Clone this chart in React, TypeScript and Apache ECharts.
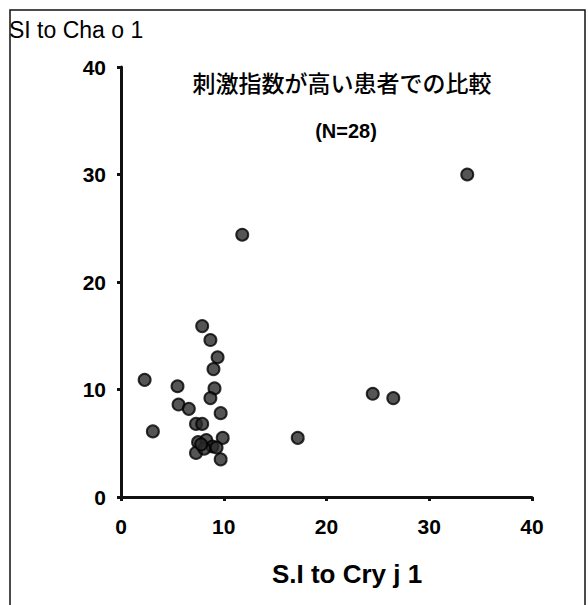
import React, { useEffect, useRef } from "react";
import * as echarts from "echarts";

const xTicks = [0, 10, 20, 30, 40];
const yTicks = [0, 10, 20, 30, 40];
const xValues = [7.9, 8.7, 9.4, 9.0, 2.3, 5.5, 9.1, 8.7, 5.6, 6.6, 9.7, 3.1, 7.3, 7.9, 9.9, 9.7, 7.5, 8.3, 8.9, 7.3, 8.1, 7.8, 9.3, 11.8, 24.5, 26.5, 17.2, 33.7];
const yValues = [15.9, 14.6, 13.0, 11.9, 10.9, 10.3, 10.1, 9.2, 8.6, 8.2, 7.8, 6.1, 6.8, 6.8, 5.5, 3.5, 5.1, 5.3, 4.7, 4.1, 4.5, 4.9, 4.6, 24.4, 9.6, 9.2, 5.5, 30.0];
const titleText = "刺激指数が高い患者での比較";
const subtitleText = "(N=28)";
const yName = "SI to Cha o 1";
const xName = "S.I to Cry j 1";

const FONT = "'Liberation Sans', Arial, 'Noto Sans CJK JP', sans-serif";

export default function App() {
  const ref = useRef<HTMLDivElement>(null);
  useEffect(() => {
    if (!ref.current) return;
    const chart = echarts.init(ref.current, null, { renderer: "svg" });
    const data = xValues.map((x, i) => [x, yValues[i]]);
    chart.setOption({
      animation: false,
      backgroundColor: "#ffffff",
      grid: { left: 121, right: 56, top: 67, bottom: 108 },
      graphic: [
        { type: "rect", shape: { x: 10, y: 10, width: 575, height: 620 }, style: { fill: "none", stroke: "#111", lineWidth: 1.5 } },
        { type: "text", x: 9, y: 30, style: { text: yName, fontFamily: FONT, fontSize: 23, fill: "#000", verticalAlign: "middle" } },
        { type: "text", x: 342, y: 82, style: { text: titleText, fontFamily: "'Noto Sans CJK JP', sans-serif", fontSize: 23, fontWeight: 500, fill: "#000", align: "center", verticalAlign: "middle" } },
        { type: "text", x: 346, y: 131, style: { text: subtitleText, fontFamily: FONT, fontSize: 20, fontWeight: "bold", fill: "#000", align: "center", verticalAlign: "middle" } },
      ],
      xAxis: {
        type: "value",
        min: xTicks[0],
        max: xTicks[xTicks.length - 1],
        interval: 10,
        name: xName,
        nameLocation: "middle",
        nameGap: 64,
        nameTextStyle: { fontFamily: FONT, fontSize: 26, fontWeight: "bold", color: "#000", padding: [0, 0, 0, 41] },
        splitLine: { show: false },
        axisLine: { lineStyle: { color: "#111", width: 3 } },
        axisTick: { length: 4, lineStyle: { color: "#111", width: 3 } },
        axisLabel: { fontFamily: FONT, fontSize: 21, fontWeight: "bold", color: "#000", margin: 19 },
      },
      yAxis: {
        type: "value",
        min: yTicks[0],
        max: yTicks[yTicks.length - 1],
        interval: 10,
        splitLine: { show: false },
        axisLine: { lineStyle: { color: "#111", width: 3 } },
        axisTick: { length: 4, lineStyle: { color: "#111", width: 3 } },
        axisLabel: { fontFamily: FONT, fontSize: 21, fontWeight: "bold", color: "#000", margin: 15 },
      },
      series: [
        {
          type: "scatter",
          data,
          symbol: "circle",
          symbolSize: 12,
          itemStyle: { color: "#2b2b2b", borderColor: "#000", borderWidth: 2 },
        },
      ],
    });
    return () => chart.dispose();
  }, []);
  return <div ref={ref} style={{ position: "absolute", left: 0, top: 0, width: 588, height: 605 }} />;
}
